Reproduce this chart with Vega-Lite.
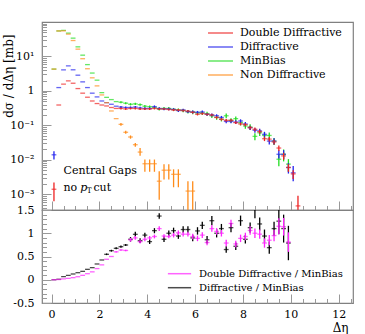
{
  "$schema": "https://vega.github.io/schema/vega-lite/v6.json",
  "autosize": {"type": "pad"},
  "padding": {"left": 1, "top": 21, "right": 0, "bottom": 0},
  "background": "white",
  "spacing": 0,
  "bounds": "flush",
  "config": {
    "font": "DejaVu Serif",
    "text": {"font": "DejaVu Serif"},
    "view": {"stroke": "#808080", "strokeWidth": 1.2},
    "axis": {"grid": false, "domain": false, "tickColor": "#999999", "tickWidth": 1, "labelFont": "DejaVu Serif", "labelFontSize": 11, "labelColor": "black", "labelFlush": false, "labelOverlap": false, "titleFont": "DejaVu Serif", "titleFontWeight": "normal", "titleColor": "black"},
    "legend": {"labelFont": "DejaVu Serif", "labelFontSize": 11, "labelColor": "black"}
  },
  "resolve": {"scale": {"color": "independent"}, "legend": {"color": "independent"}},
  "datasets": {
    "main": [
      {"s":"MinBias","x":0.1,"y":4.3},{"s":"MinBias","x":0.3,"y":55},{"s":"MinBias","x":0.5,"y":57},{"s":"MinBias","x":0.7,"y":47.6},{"s":"MinBias","x":0.9,"y":34},{"s":"MinBias","x":1.1,"y":19},{"s":"MinBias","x":1.3,"y":10.9},{"s":"MinBias","x":1.5,"y":5.8},{"s":"MinBias","x":1.7,"y":3.3},{"s":"MinBias","x":1.9,"y":2.05},{"s":"MinBias","x":2.1,"y":0.89},{"s":"MinBias","x":2.3,"y":0.65},{"s":"MinBias","x":2.5,"y":0.56},{"s":"MinBias","x":2.7,"y":0.49},
      {"s":"MinBias","x":2.9,"y":0.47,"lo":0.44,"hi":0.5},{"s":"MinBias","x":3.1,"y":0.44,"lo":0.41,"hi":0.47},{"s":"MinBias","x":3.3,"y":0.41,"lo":0.38,"hi":0.44},{"s":"MinBias","x":3.5,"y":0.42,"lo":0.39,"hi":0.45},{"s":"MinBias","x":3.7,"y":0.4,"lo":0.37,"hi":0.43},{"s":"MinBias","x":3.9,"y":0.36,"lo":0.33,"hi":0.39},{"s":"MinBias","x":4.1,"y":0.35,"lo":0.32,"hi":0.38},{"s":"MinBias","x":4.3,"y":0.33,"lo":0.3,"hi":0.36},{"s":"MinBias","x":4.5,"y":0.3,"lo":0.27,"hi":0.33},{"s":"MinBias","x":4.7,"y":0.31,"lo":0.28,"hi":0.34},{"s":"MinBias","x":4.9,"y":0.31,"lo":0.28,"hi":0.34},{"s":"MinBias","x":5.1,"y":0.29,"lo":0.26,"hi":0.32},{"s":"MinBias","x":5.3,"y":0.28,"lo":0.25,"hi":0.31},{"s":"MinBias","x":5.5,"y":0.27,"lo":0.24,"hi":0.3},{"s":"MinBias","x":5.7,"y":0.25,"lo":0.22,"hi":0.28},{"s":"MinBias","x":5.9,"y":0.24,"lo":0.21,"hi":0.27},{"s":"MinBias","x":6.1,"y":0.23,"lo":0.2,"hi":0.26},{"s":"MinBias","x":6.3,"y":0.23,"lo":0.2,"hi":0.26},{"s":"MinBias","x":6.5,"y":0.22,"lo":0.19,"hi":0.25},{"s":"MinBias","x":6.7,"y":0.19,"lo":0.165,"hi":0.215},{"s":"MinBias","x":6.9,"y":0.17,"lo":0.145,"hi":0.195},{"s":"MinBias","x":7.1,"y":0.15,"lo":0.13,"hi":0.17},{"s":"MinBias","x":7.3,"y":0.19,"lo":0.16,"hi":0.22},{"s":"MinBias","x":7.5,"y":0.14,"lo":0.12,"hi":0.16},{"s":"MinBias","x":7.7,"y":0.157,"lo":0.135,"hi":0.18},{"s":"MinBias","x":7.9,"y":0.12,"lo":0.1,"hi":0.14},{"s":"MinBias","x":8.1,"y":0.096,"lo":0.08,"hi":0.115},{"s":"MinBias","x":8.3,"y":0.09,"lo":0.073,"hi":0.107},{"s":"MinBias","x":8.5,"y":0.048,"lo":0.037,"hi":0.059},{"s":"MinBias","x":8.7,"y":0.061,"lo":0.049,"hi":0.073},{"s":"MinBias","x":8.9,"y":0.051,"lo":0.04,"hi":0.062},{"s":"MinBias","x":9.1,"y":0.051,"lo":0.04,"hi":0.062},{"s":"MinBias","x":9.3,"y":0.035,"lo":0.027,"hi":0.043},{"s":"MinBias","x":9.5,"y":0.0104,"lo":0.0065,"hi":0.0145},{"s":"MinBias","x":9.7,"y":0.0145,"lo":0.009,"hi":0.02},{"s":"MinBias","x":9.9,"y":0.0075,"lo":0.0045,"hi":0.0105},
      {"s":"Diffractive","x":0.1,"y":0.014,"lo":0.0103,"hi":0.0177},{"s":"Diffractive","x":0.3,"y":1.25},{"s":"Diffractive","x":0.5,"y":4.1},{"s":"Diffractive","x":0.7,"y":5.3},{"s":"Diffractive","x":0.9,"y":4.1},{"s":"Diffractive","x":1.1,"y":2.86},{"s":"Diffractive","x":1.3,"y":1.83},{"s":"Diffractive","x":1.5,"y":1.25},{"s":"Diffractive","x":1.7,"y":0.86},{"s":"Diffractive","x":1.9,"y":0.67},{"s":"Diffractive","x":2.1,"y":0.51},{"s":"Diffractive","x":2.3,"y":0.457},{"s":"Diffractive","x":2.5,"y":0.41},{"s":"Diffractive","x":2.7,"y":0.36},
      {"s":"Diffractive","x":2.9,"y":0.34,"lo":0.315,"hi":0.365},{"s":"Diffractive","x":3.1,"y":0.33,"lo":0.305,"hi":0.355},{"s":"Diffractive","x":3.3,"y":0.33,"lo":0.305,"hi":0.355},{"s":"Diffractive","x":3.5,"y":0.34,"lo":0.315,"hi":0.365},{"s":"Diffractive","x":3.7,"y":0.32,"lo":0.295,"hi":0.345},{"s":"Diffractive","x":3.9,"y":0.31,"lo":0.285,"hi":0.335},{"s":"Diffractive","x":4.1,"y":0.31,"lo":0.285,"hi":0.335},{"s":"Diffractive","x":4.3,"y":0.35,"lo":0.32,"hi":0.38},{"s":"Diffractive","x":4.5,"y":0.31,"lo":0.285,"hi":0.335},{"s":"Diffractive","x":4.7,"y":0.3,"lo":0.275,"hi":0.325},{"s":"Diffractive","x":4.9,"y":0.3,"lo":0.275,"hi":0.325},{"s":"Diffractive","x":5.1,"y":0.29,"lo":0.265,"hi":0.315},{"s":"Diffractive","x":5.3,"y":0.27,"lo":0.245,"hi":0.295},{"s":"Diffractive","x":5.5,"y":0.28,"lo":0.255,"hi":0.305},{"s":"Diffractive","x":5.7,"y":0.25,"lo":0.227,"hi":0.273},{"s":"Diffractive","x":5.9,"y":0.245,"lo":0.222,"hi":0.268},{"s":"Diffractive","x":6.1,"y":0.24,"lo":0.218,"hi":0.262},{"s":"Diffractive","x":6.3,"y":0.245,"lo":0.222,"hi":0.268},{"s":"Diffractive","x":6.5,"y":0.21,"lo":0.19,"hi":0.23},{"s":"Diffractive","x":6.7,"y":0.2,"lo":0.18,"hi":0.22},{"s":"Diffractive","x":6.9,"y":0.19,"lo":0.17,"hi":0.21},{"s":"Diffractive","x":7.1,"y":0.17,"lo":0.152,"hi":0.188},{"s":"Diffractive","x":7.3,"y":0.13,"lo":0.115,"hi":0.145},{"s":"Diffractive","x":7.5,"y":0.13,"lo":0.115,"hi":0.145},{"s":"Diffractive","x":7.7,"y":0.125,"lo":0.11,"hi":0.14},{"s":"Diffractive","x":7.9,"y":0.134,"lo":0.118,"hi":0.15},{"s":"Diffractive","x":8.1,"y":0.11,"lo":0.095,"hi":0.125},{"s":"Diffractive","x":8.3,"y":0.086,"lo":0.074,"hi":0.098},{"s":"Diffractive","x":8.5,"y":0.072,"lo":0.061,"hi":0.083},{"s":"Diffractive","x":8.7,"y":0.069,"lo":0.058,"hi":0.08},{"s":"Diffractive","x":8.9,"y":0.055,"lo":0.045,"hi":0.065},{"s":"Diffractive","x":9.1,"y":0.035,"lo":0.028,"hi":0.042},{"s":"Diffractive","x":9.3,"y":0.035,"lo":0.028,"hi":0.042},{"s":"Diffractive","x":9.5,"y":0.0145,"lo":0.011,"hi":0.019},{"s":"Diffractive","x":9.7,"y":0.0145,"lo":0.0105,"hi":0.019},{"s":"Diffractive","x":9.9,"y":0.006,"lo":0.004,"hi":0.008},{"s":"Diffractive","x":10.1,"y":0.0042,"lo":0.0024,"hi":0.0066},
      {"s":"Double Diffractive","x":0.1,"y":0.0014,"lo":0.00063,"hi":0.0022},{"s":"Double Diffractive","x":0.3,"y":0.39},{"s":"Double Diffractive","x":0.5,"y":1.57},{"s":"Double Diffractive","x":0.7,"y":1.95},{"s":"Double Diffractive","x":0.9,"y":1.67},{"s":"Double Diffractive","x":1.1,"y":1.17},{"s":"Double Diffractive","x":1.3,"y":0.86},{"s":"Double Diffractive","x":1.5,"y":0.656},{"s":"Double Diffractive","x":1.7,"y":0.51},{"s":"Double Diffractive","x":1.9,"y":0.43},{"s":"Double Diffractive","x":2.1,"y":0.39},{"s":"Double Diffractive","x":2.3,"y":0.366},{"s":"Double Diffractive","x":2.5,"y":0.33},{"s":"Double Diffractive","x":2.7,"y":0.31},
      {"s":"Double Diffractive","x":2.9,"y":0.31,"lo":0.29,"hi":0.33},{"s":"Double Diffractive","x":3.1,"y":0.3,"lo":0.28,"hi":0.32},{"s":"Double Diffractive","x":3.3,"y":0.31,"lo":0.29,"hi":0.33},{"s":"Double Diffractive","x":3.5,"y":0.31,"lo":0.29,"hi":0.33},{"s":"Double Diffractive","x":3.7,"y":0.3,"lo":0.28,"hi":0.32},{"s":"Double Diffractive","x":3.9,"y":0.3,"lo":0.28,"hi":0.32},{"s":"Double Diffractive","x":4.1,"y":0.3,"lo":0.28,"hi":0.32},{"s":"Double Diffractive","x":4.3,"y":0.31,"lo":0.29,"hi":0.33},{"s":"Double Diffractive","x":4.5,"y":0.3,"lo":0.28,"hi":0.32},{"s":"Double Diffractive","x":4.7,"y":0.3,"lo":0.28,"hi":0.32},{"s":"Double Diffractive","x":4.9,"y":0.29,"lo":0.27,"hi":0.31},{"s":"Double Diffractive","x":5.1,"y":0.28,"lo":0.26,"hi":0.3},{"s":"Double Diffractive","x":5.3,"y":0.28,"lo":0.26,"hi":0.3},{"s":"Double Diffractive","x":5.5,"y":0.27,"lo":0.25,"hi":0.29},{"s":"Double Diffractive","x":5.7,"y":0.26,"lo":0.24,"hi":0.28},{"s":"Double Diffractive","x":5.9,"y":0.24,"lo":0.222,"hi":0.258},{"s":"Double Diffractive","x":6.1,"y":0.21,"lo":0.194,"hi":0.226},{"s":"Double Diffractive","x":6.3,"y":0.22,"lo":0.204,"hi":0.236},{"s":"Double Diffractive","x":6.5,"y":0.21,"lo":0.194,"hi":0.226},{"s":"Double Diffractive","x":6.7,"y":0.2,"lo":0.184,"hi":0.216},{"s":"Double Diffractive","x":6.9,"y":0.17,"lo":0.156,"hi":0.184},{"s":"Double Diffractive","x":7.1,"y":0.15,"lo":0.137,"hi":0.163},{"s":"Double Diffractive","x":7.3,"y":0.14,"lo":0.128,"hi":0.152},{"s":"Double Diffractive","x":7.5,"y":0.14,"lo":0.128,"hi":0.152},{"s":"Double Diffractive","x":7.7,"y":0.12,"lo":0.109,"hi":0.131},{"s":"Double Diffractive","x":7.9,"y":0.11,"lo":0.1,"hi":0.12},{"s":"Double Diffractive","x":8.1,"y":0.105,"lo":0.094,"hi":0.116},{"s":"Double Diffractive","x":8.3,"y":0.086,"lo":0.076,"hi":0.096},{"s":"Double Diffractive","x":8.5,"y":0.077,"lo":0.067,"hi":0.087},{"s":"Double Diffractive","x":8.7,"y":0.066,"lo":0.057,"hi":0.075},{"s":"Double Diffractive","x":8.9,"y":0.041,"lo":0.035,"hi":0.047},{"s":"Double Diffractive","x":9.1,"y":0.04,"lo":0.034,"hi":0.046},{"s":"Double Diffractive","x":9.3,"y":0.033,"lo":0.028,"hi":0.038},{"s":"Double Diffractive","x":9.5,"y":0.022,"lo":0.018,"hi":0.026},{"s":"Double Diffractive","x":9.7,"y":0.013,"lo":0.01,"hi":0.016},{"s":"Double Diffractive","x":9.9,"y":0.006,"lo":0.0045,"hi":0.0075},{"s":"Double Diffractive","x":10.1,"y":0.0039,"lo":0.0028,"hi":0.005},{"s":"Double Diffractive","x":10.3,"y":0.00046,"lo":0.0002,"hi":0.0009},
      {"s":"Non Diffractive","x":0.1,"y":4.3},{"s":"Non Diffractive","x":0.3,"y":55},{"s":"Non Diffractive","x":0.5,"y":55},{"s":"Non Diffractive","x":0.7,"y":44.5},{"s":"Non Diffractive","x":0.9,"y":29},{"s":"Non Diffractive","x":1.1,"y":16.3},{"s":"Non Diffractive","x":1.3,"y":8.6},{"s":"Non Diffractive","x":1.5,"y":4.4},{"s":"Non Diffractive","x":1.7,"y":2.4},{"s":"Non Diffractive","x":1.9,"y":1.4},{"s":"Non Diffractive","x":2.1,"y":0.765},{"s":"Non Diffractive","x":2.3,"y":0.457},{"s":"Non Diffractive","x":2.5,"y":0.262},{"s":"Non Diffractive","x":2.7,"y":0.157},
      {"s":"Non Diffractive","x":2.9,"y":0.107,"lo":0.098,"hi":0.117},{"s":"Non Diffractive","x":3.1,"y":0.063,"lo":0.057,"hi":0.07},{"s":"Non Diffractive","x":3.3,"y":0.046,"lo":0.041,"hi":0.051},{"s":"Non Diffractive","x":3.5,"y":0.0275,"lo":0.024,"hi":0.031},{"s":"Non Diffractive","x":3.7,"y":0.0168,"lo":0.0132,"hi":0.022},{"s":"Non Diffractive","x":3.9,"y":0.0077,"lo":0.0045,"hi":0.0102},{"s":"Non Diffractive","x":4.1,"y":0.0077,"lo":0.0045,"hi":0.0102},{"s":"Non Diffractive","x":4.3,"y":0.0077,"lo":0.0045,"hi":0.0102},{"s":"Non Diffractive","x":4.5,"y":0.0024,"lo":0.0007,"hi":0.0047},{"s":"Non Diffractive","x":4.7,"y":0.005,"lo":0.0027,"hi":0.0074},{"s":"Non Diffractive","x":4.9,"y":0.005,"lo":0.0027,"hi":0.0074},{"s":"Non Diffractive","x":5.1,"y":0.0038,"lo":0.0016,"hi":0.0053},{"s":"Non Diffractive","x":5.3,"y":0.0038,"lo":0.0016,"hi":0.0053},{"s":"Non Diffractive","x":5.7,"y":0.00124,"lo":0.0002,"hi":0.0024},{"s":"Non Diffractive","x":5.9,"y":0.00124,"lo":0.0002,"hi":0.0024}
    ],
    "ratio": [
      {"s":"Diffractive / MinBias","x":0.1,"y":0.0},{"s":"Diffractive / MinBias","x":0.3,"y":0.01},{"s":"Diffractive / MinBias","x":0.5,"y":0.066},{"s":"Diffractive / MinBias","x":0.7,"y":0.095},{"s":"Diffractive / MinBias","x":0.9,"y":0.124},{"s":"Diffractive / MinBias","x":1.1,"y":0.152},{"s":"Diffractive / MinBias","x":1.3,"y":0.181},{"s":"Diffractive / MinBias","x":1.5,"y":0.224},{"s":"Diffractive / MinBias","x":1.7,"y":0.26},{"s":"Diffractive / MinBias","x":1.9,"y":0.339},{"s":"Diffractive / MinBias","x":2.1,"y":0.425},
      {"s":"Diffractive / MinBias","x":2.3,"y":0.547,"lo":0.53,"hi":0.565},{"s":"Diffractive / MinBias","x":2.5,"y":0.625,"lo":0.605,"hi":0.645},{"s":"Diffractive / MinBias","x":2.7,"y":0.676,"lo":0.655,"hi":0.7},{"s":"Diffractive / MinBias","x":2.9,"y":0.711,"lo":0.69,"hi":0.735},{"s":"Diffractive / MinBias","x":3.1,"y":0.747,"lo":0.725,"hi":0.77},{"s":"Diffractive / MinBias","x":3.3,"y":0.87,"lo":0.82,"hi":0.92},{"s":"Diffractive / MinBias","x":3.5,"y":0.977,"lo":0.925,"hi":1.03},{"s":"Diffractive / MinBias","x":3.7,"y":0.84,"lo":0.79,"hi":0.89},{"s":"Diffractive / MinBias","x":3.9,"y":0.96,"lo":0.91,"hi":1.01},{"s":"Diffractive / MinBias","x":4.1,"y":0.82,"lo":0.77,"hi":0.87},{"s":"Diffractive / MinBias","x":4.3,"y":1.056,"lo":1.0,"hi":1.11},{"s":"Diffractive / MinBias","x":4.5,"y":1.37,"lo":1.31,"hi":1.43},{"s":"Diffractive / MinBias","x":4.7,"y":0.87,"lo":0.81,"hi":0.93},{"s":"Diffractive / MinBias","x":4.9,"y":1.0,"lo":0.94,"hi":1.06},{"s":"Diffractive / MinBias","x":5.1,"y":1.056,"lo":0.99,"hi":1.12},{"s":"Diffractive / MinBias","x":5.3,"y":0.94,"lo":0.88,"hi":1.0},{"s":"Diffractive / MinBias","x":5.5,"y":1.08,"lo":1.01,"hi":1.15},{"s":"Diffractive / MinBias","x":5.7,"y":1.08,"lo":1.01,"hi":1.15},{"s":"Diffractive / MinBias","x":5.9,"y":0.9,"lo":0.83,"hi":0.97},{"s":"Diffractive / MinBias","x":6.1,"y":1.05,"lo":0.97,"hi":1.13},{"s":"Diffractive / MinBias","x":6.3,"y":1.17,"lo":1.09,"hi":1.25},{"s":"Diffractive / MinBias","x":6.5,"y":0.86,"lo":0.78,"hi":0.94},{"s":"Diffractive / MinBias","x":6.7,"y":1.27,"lo":1.17,"hi":1.37},{"s":"Diffractive / MinBias","x":6.9,"y":1.0,"lo":0.91,"hi":1.09},{"s":"Diffractive / MinBias","x":7.1,"y":1.1,"lo":1.0,"hi":1.2},{"s":"Diffractive / MinBias","x":7.3,"y":0.65,"lo":0.58,"hi":0.72},{"s":"Diffractive / MinBias","x":7.5,"y":1.12,"lo":1.02,"hi":1.22},{"s":"Diffractive / MinBias","x":7.7,"y":0.72,"lo":0.64,"hi":0.8},{"s":"Diffractive / MinBias","x":7.9,"y":1.27,"lo":1.16,"hi":1.38},{"s":"Diffractive / MinBias","x":8.1,"y":0.87,"lo":0.78,"hi":0.96},{"s":"Diffractive / MinBias","x":8.3,"y":1.12,"lo":1.01,"hi":1.23},{"s":"Diffractive / MinBias","x":8.5,"y":1.6,"lo":1.32,"hi":1.9},{"s":"Diffractive / MinBias","x":8.7,"y":1.2,"lo":1.06,"hi":1.34},{"s":"Diffractive / MinBias","x":8.9,"y":0.94,"lo":0.8,"hi":1.08},{"s":"Diffractive / MinBias","x":9.1,"y":0.69,"lo":0.56,"hi":0.82},{"s":"Diffractive / MinBias","x":9.3,"y":1.1,"lo":0.95,"hi":1.25},{"s":"Diffractive / MinBias","x":9.5,"y":1.26,"lo":0.98,"hi":1.55},{"s":"Diffractive / MinBias","x":9.7,"y":1.1,"lo":0.8,"hi":1.4},{"s":"Diffractive / MinBias","x":9.9,"y":0.79,"lo":0.42,"hi":1.16},
      {"s":"Double Diffractive / MinBias","x":0.1,"y":0.0},{"s":"Double Diffractive / MinBias","x":0.3,"y":0.005},{"s":"Double Diffractive / MinBias","x":0.5,"y":0.02},{"s":"Double Diffractive / MinBias","x":0.7,"y":0.03},{"s":"Double Diffractive / MinBias","x":0.9,"y":0.045},{"s":"Double Diffractive / MinBias","x":1.1,"y":0.065},{"s":"Double Diffractive / MinBias","x":1.3,"y":0.095},{"s":"Double Diffractive / MinBias","x":1.5,"y":0.13},{"s":"Double Diffractive / MinBias","x":1.7,"y":0.17},{"s":"Double Diffractive / MinBias","x":1.9,"y":0.24},{"s":"Double Diffractive / MinBias","x":2.1,"y":0.32},{"s":"Double Diffractive / MinBias","x":2.3,"y":0.44},{"s":"Double Diffractive / MinBias","x":2.5,"y":0.5},
      {"s":"Double Diffractive / MinBias","x":2.7,"y":0.6,"lo":0.585,"hi":0.615},{"s":"Double Diffractive / MinBias","x":2.9,"y":0.64,"lo":0.625,"hi":0.655},{"s":"Double Diffractive / MinBias","x":3.1,"y":0.63,"lo":0.615,"hi":0.645},{"s":"Double Diffractive / MinBias","x":3.3,"y":0.86,"lo":0.82,"hi":0.9},{"s":"Double Diffractive / MinBias","x":3.5,"y":0.9,"lo":0.86,"hi":0.94},{"s":"Double Diffractive / MinBias","x":3.7,"y":0.82,"lo":0.78,"hi":0.86},{"s":"Double Diffractive / MinBias","x":3.9,"y":0.87,"lo":0.83,"hi":0.91},{"s":"Double Diffractive / MinBias","x":4.1,"y":0.9,"lo":0.86,"hi":0.94},{"s":"Double Diffractive / MinBias","x":4.3,"y":0.93,"lo":0.89,"hi":0.97},{"s":"Double Diffractive / MinBias","x":4.5,"y":1.1,"lo":1.05,"hi":1.15},{"s":"Double Diffractive / MinBias","x":4.7,"y":0.94,"lo":0.9,"hi":0.98},{"s":"Double Diffractive / MinBias","x":4.9,"y":0.93,"lo":0.89,"hi":0.97},{"s":"Double Diffractive / MinBias","x":5.1,"y":0.96,"lo":0.91,"hi":1.01},{"s":"Double Diffractive / MinBias","x":5.3,"y":1.01,"lo":0.96,"hi":1.06},{"s":"Double Diffractive / MinBias","x":5.5,"y":0.98,"lo":0.93,"hi":1.03},{"s":"Double Diffractive / MinBias","x":5.7,"y":0.98,"lo":0.93,"hi":1.03},{"s":"Double Diffractive / MinBias","x":5.9,"y":0.93,"lo":0.87,"hi":0.99},{"s":"Double Diffractive / MinBias","x":6.1,"y":0.89,"lo":0.83,"hi":0.95},{"s":"Double Diffractive / MinBias","x":6.3,"y":0.96,"lo":0.9,"hi":1.02},{"s":"Double Diffractive / MinBias","x":6.5,"y":0.8,"lo":0.74,"hi":0.86},{"s":"Double Diffractive / MinBias","x":6.7,"y":1.1,"lo":1.03,"hi":1.17},{"s":"Double Diffractive / MinBias","x":6.9,"y":1.04,"lo":0.97,"hi":1.11},{"s":"Double Diffractive / MinBias","x":7.1,"y":1.0,"lo":0.93,"hi":1.07},{"s":"Double Diffractive / MinBias","x":7.3,"y":0.79,"lo":0.72,"hi":0.86},{"s":"Double Diffractive / MinBias","x":7.5,"y":1.21,"lo":1.13,"hi":1.29},{"s":"Double Diffractive / MinBias","x":7.7,"y":0.77,"lo":0.7,"hi":0.84},{"s":"Double Diffractive / MinBias","x":7.9,"y":0.89,"lo":0.81,"hi":0.97},{"s":"Double Diffractive / MinBias","x":8.1,"y":0.93,"lo":0.85,"hi":1.01},{"s":"Double Diffractive / MinBias","x":8.3,"y":1.06,"lo":0.97,"hi":1.15},{"s":"Double Diffractive / MinBias","x":8.5,"y":1.0,"lo":0.9,"hi":1.1},{"s":"Double Diffractive / MinBias","x":8.7,"y":0.98,"lo":0.88,"hi":1.08},{"s":"Double Diffractive / MinBias","x":8.9,"y":0.79,"lo":0.69,"hi":0.89},{"s":"Double Diffractive / MinBias","x":9.1,"y":0.85,"lo":0.74,"hi":0.96},{"s":"Double Diffractive / MinBias","x":9.3,"y":0.95,"lo":0.83,"hi":1.07},{"s":"Double Diffractive / MinBias","x":9.5,"y":1.15,"lo":0.98,"hi":1.32},{"s":"Double Diffractive / MinBias","x":9.7,"y":1.14,"lo":0.95,"hi":1.33},{"s":"Double Diffractive / MinBias","x":9.9,"y":0.81,"lo":0.6,"hi":1.02}
    ]
  },
  "vconcat": [
    {
      "width": 311,
      "height": 188,
      "resolve": {"axis": {"x": "independent", "y": "independent"}},
      "layer": [
        {
          "data": {"name": "main"},
          "mark": {"type": "tick", "orient": "horizontal", "size": 4.8, "thickness": 1.3, "clip": true},
          "encoding": {
            "x": {"field": "x", "type": "quantitative", "scale": {"domain": [-0.4, 12.6], "nice": false, "zero": false},
                  "axis": {"orient": "bottom", "values": [0, 2, 4, 6, 8, 10, 12], "labels": false, "tickSize": -9, "title": null}},
            "y": {"field": "y", "type": "quantitative", "scale": {"type": "log", "domain": [0.00035, 100], "nice": false},
                  "axis": {"orient": "left", "values": [0.001, 0.01, 0.1, 1, 10], "tickSize": -9, "labelPadding": 17,
                           "labelExpr": "datum.value == 1 ? '1' : datum.value == 10 ? '10¹' : datum.value == 0.1 ? '10⁻¹' : datum.value == 0.01 ? '10⁻²' : '10⁻³'",
                           "title": "dσ / dΔη [mb]", "titleX": -34, "titleY": 12, "titleAlign": "right", "titleAngle": 270, "titleBaseline": "middle", "titleFontSize": 12}},
            "color": {"field": "s", "type": "nominal",
                      "scale": {"domain": ["Double Diffractive", "Diffractive", "MinBias", "Non Diffractive"], "range": ["#ee2222", "#2222ee", "#22dd22", "#ff8c1a"]},
                      "legend": {"orient": "none", "legendX": 165, "legendY": 4, "title": null, "symbolType": "stroke", "symbolSize": 625, "symbolStrokeWidth": 1.5, "labelOffset": 6, "clipHeight": 14, "rowPadding": 0, "padding": 0, "labelFontSize": 11}}
          }
        },
        {
          "data": {"name": "main"},
          "transform": [{"filter": "isValid(datum.lo)"}],
          "mark": {"type": "rule", "strokeWidth": 1.3, "clip": true},
          "encoding": {
            "x": {"field": "x", "type": "quantitative",
                  "axis": {"orient": "bottom", "values": [0.5, 1, 1.5, 2.5, 3, 3.5, 4.5, 5, 5.5, 6.5, 7, 7.5, 8.5, 9, 9.5, 10.5, 11, 11.5, 12.5], "labels": false, "tickSize": -4.5, "title": null}},
            "y": {"field": "lo", "type": "quantitative",
                  "axis": {"orient": "left", "values": [0.0004, 0.0005, 0.0006, 0.0007, 0.0008, 0.0009, 0.002, 0.003, 0.004, 0.005, 0.006, 0.007, 0.008, 0.009, 0.02, 0.03, 0.04, 0.05, 0.06, 0.07, 0.08, 0.09, 0.2, 0.3, 0.4, 0.5, 0.6, 0.7, 0.8, 0.9, 2, 3, 4, 5, 6, 7, 8, 9, 20, 30, 40, 50, 60, 70, 80, 90], "labels": false, "tickSize": -4.5, "title": null}},
            "y2": {"field": "hi"},
            "color": {"field": "s", "type": "nominal", "legend": null}
          }
        },
        {
          "data": {"values": [{"x": 0.5, "y": 0.00475, "t": "Central Gaps"}, {"x": 0.5, "y": 0.00149, "t": "no"}, {"x": 1.75, "y": 0.00149, "t": "cut"}]},
          "mark": {"type": "text", "align": "left", "baseline": "middle", "fontSize": 11, "color": "black"},
          "encoding": {"x": {"field": "x", "type": "quantitative", "axis": null}, "y": {"field": "y", "type": "quantitative", "axis": null}, "text": {"field": "t"}}
        },
        {
          "data": {"values": [{"x": 1.2, "y": 0.00149, "t": "p"}]},
          "mark": {"type": "text", "align": "left", "baseline": "middle", "fontSize": 11, "fontStyle": "italic", "color": "black"},
          "encoding": {"x": {"field": "x", "type": "quantitative", "axis": null}, "y": {"field": "y", "type": "quantitative", "axis": null}, "text": {"field": "t"}}
        },
        {
          "data": {"values": [{"x": 1.47, "y": 0.00122, "t": "T"}]},
          "mark": {"type": "text", "align": "left", "baseline": "middle", "fontSize": 7.5, "color": "black"},
          "encoding": {"x": {"field": "x", "type": "quantitative", "axis": null}, "y": {"field": "y", "type": "quantitative", "axis": null}, "text": {"field": "t"}}
        }
      ]
    },
    {
      "width": 311,
      "height": 93,
      "resolve": {"axis": {"x": "independent", "y": "independent"}},
      "layer": [
        {
          "data": {"name": "ratio"},
          "mark": {"type": "tick", "orient": "horizontal", "size": 4.8, "thickness": 1.3, "clip": true},
          "encoding": {
            "x": {"field": "x", "type": "quantitative", "scale": {"domain": [-0.4, 12.6], "nice": false, "zero": false},
                  "axis": {"orient": "bottom", "values": [0, 2, 4, 6, 8, 10, 12], "tickSize": -9, "labelPadding": 14, "labelBaseline": "top",
                           "title": "Δη", "titleX": 306, "titleY": 24, "titleAlign": "right", "titleBaseline": "middle", "titleFontSize": 12}},
            "y": {"field": "y", "type": "quantitative", "scale": {"domain": [-0.5, 1.5], "nice": false, "zero": false},
                  "axis": {"orient": "left", "values": [-0.5, 0, 0.5, 1, 1.5], "tickSize": -9, "labelPadding": 17, "labelExpr": "'' + datum.value", "title": null}},
            "color": {"field": "s", "type": "nominal",
                      "scale": {"domain": ["Double Diffractive / MinBias", "Diffractive / MinBias"], "range": ["#ff22ff", "#000000"]},
                      "legend": {"orient": "none", "legendX": 125, "legendY": 57, "title": null, "symbolType": "stroke", "symbolSize": 540, "symbolStrokeWidth": 1.5, "labelOffset": 7, "clipHeight": 13.4, "rowPadding": 0, "padding": 0, "labelFontSize": 10}}
          }
        },
        {
          "data": {"name": "ratio"},
          "transform": [{"filter": "isValid(datum.lo)"}],
          "mark": {"type": "rule", "strokeWidth": 1.3, "clip": true},
          "encoding": {
            "x": {"field": "x", "type": "quantitative",
                  "axis": {"orient": "bottom", "values": [0.5, 1, 1.5, 2.5, 3, 3.5, 4.5, 5, 5.5, 6.5, 7, 7.5, 8.5, 9, 9.5, 10.5, 11, 11.5, 12.5], "labels": false, "tickSize": -4.5, "title": null}},
            "y": {"field": "lo", "type": "quantitative",
                  "axis": {"orient": "left", "values": [-0.4, -0.3, -0.2, -0.1, 0.1, 0.2, 0.3, 0.4, 0.6, 0.7, 0.8, 0.9, 1.1, 1.2, 1.3, 1.4], "labels": false, "tickSize": -4.5, "title": null}},
            "y2": {"field": "hi"},
            "color": {"field": "s", "type": "nominal", "legend": null}
          }
        }
      ]
    }
  ]
}
